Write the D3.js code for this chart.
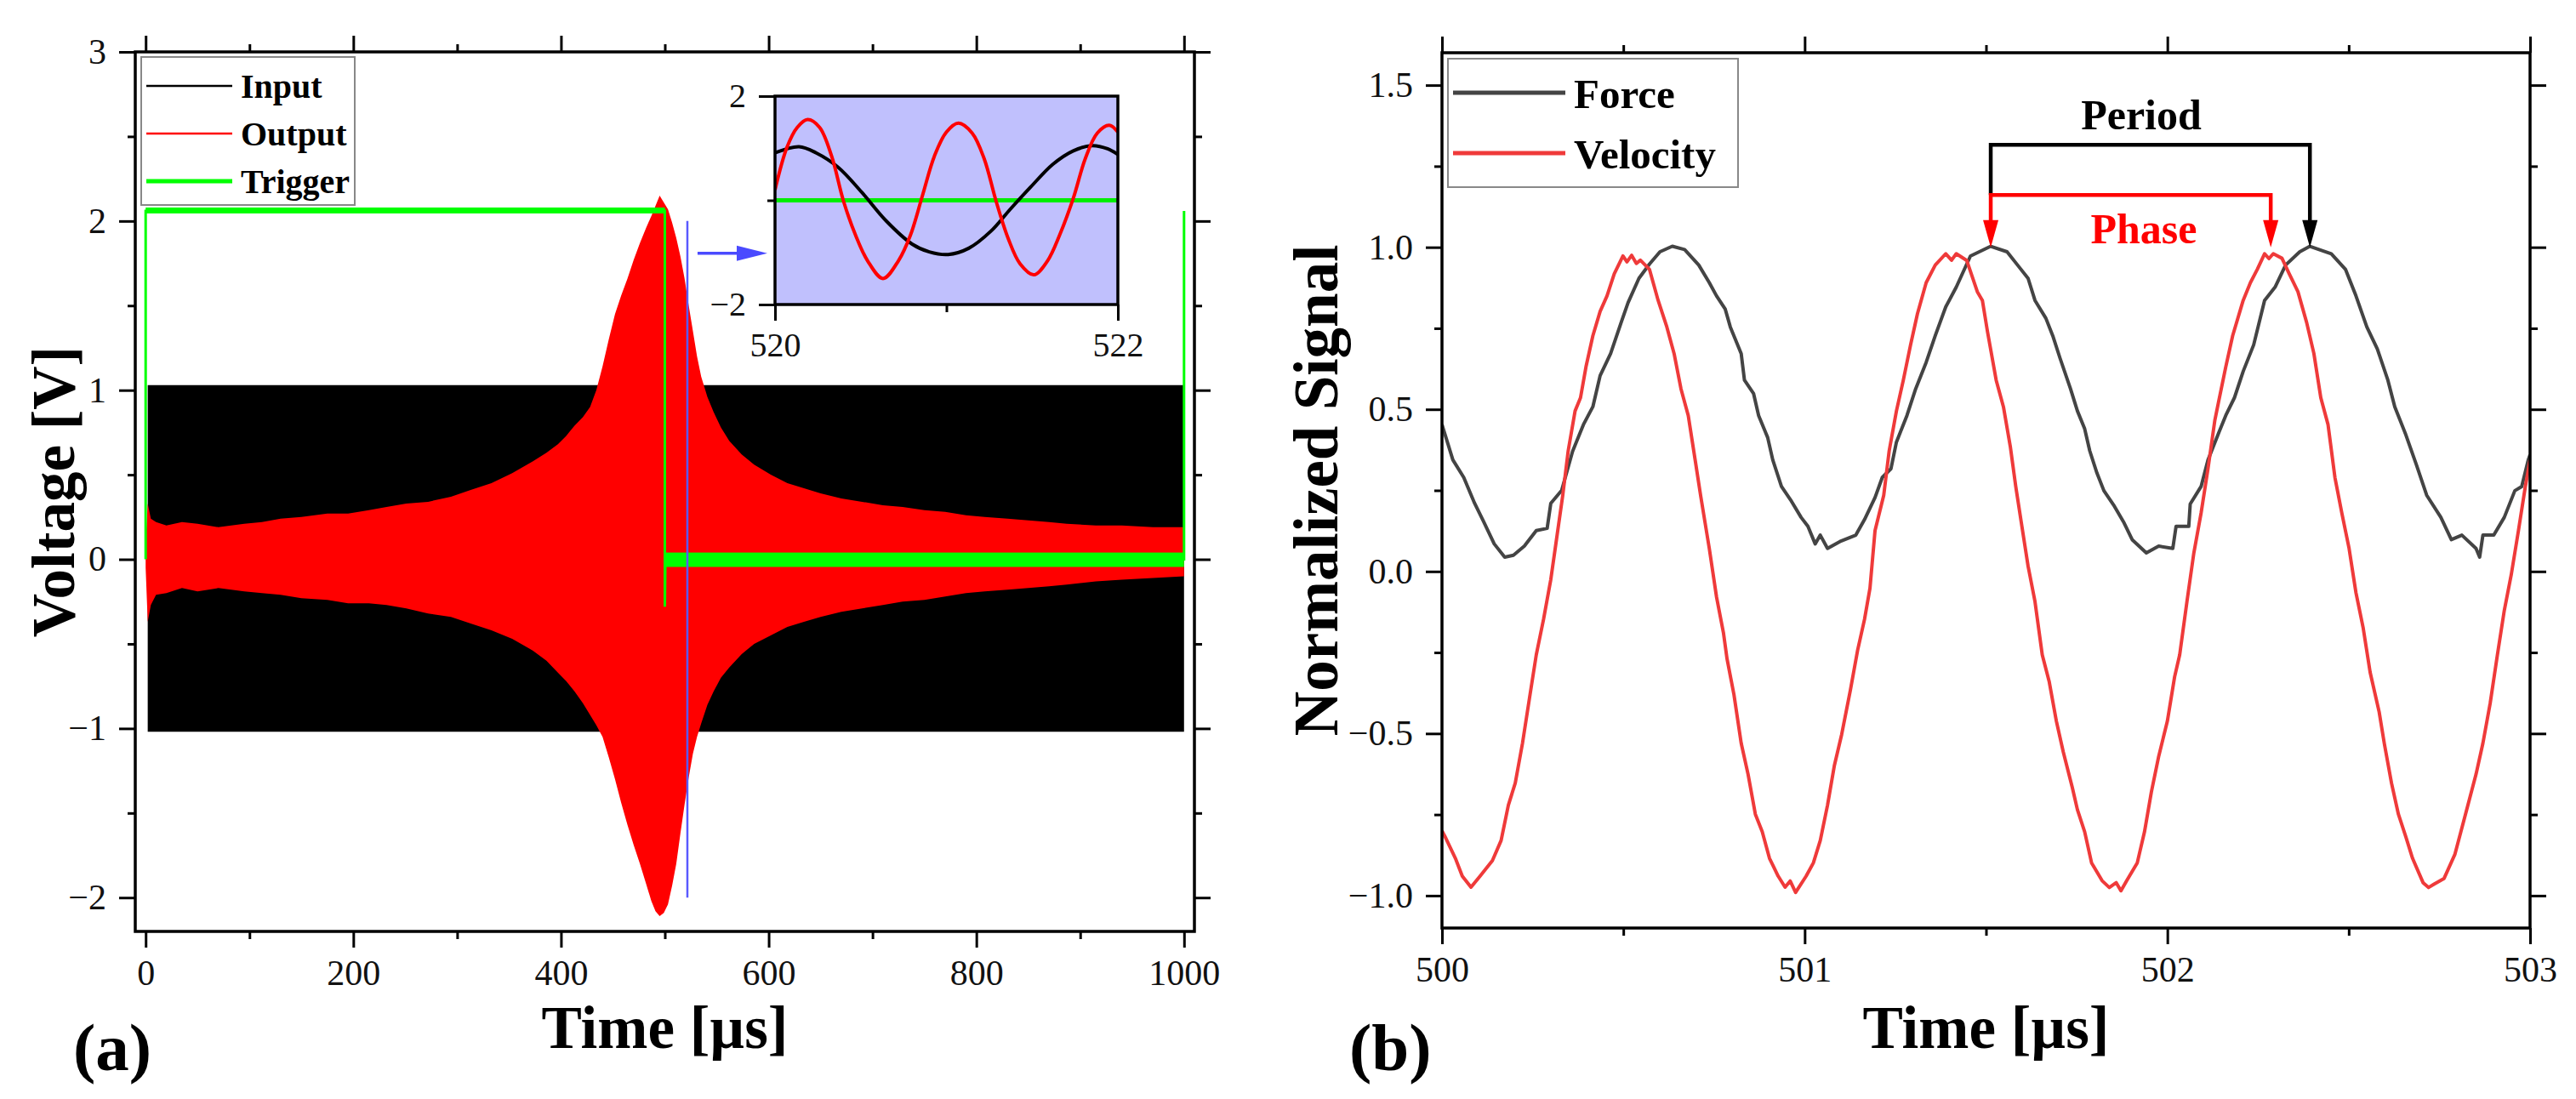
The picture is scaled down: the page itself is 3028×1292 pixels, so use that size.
<!DOCTYPE html>
<html>
<head>
<meta charset="utf-8">
<script src="https://cdn.jsdelivr.net/npm/d3@7"></script>
<style>
  body { margin: 0; background: #fff; }
  svg { display: block; font-family: "Liberation Serif", serif; }
</style>
</head>
<body>
<svg id="chart" width="3028" height="1292"></svg>
<script>
/****** data, panel (a) ******/
// envelope of the output burst: [time µs, upper V, lower V]
let outputEnvelope = [
  [0, 0.10, -0.05], [2, 0.33, -0.37], [5, 0.24, -0.27], [10, 0.22, -0.21], [20, 0.20, -0.20],
  [35, 0.22, -0.17], [50, 0.21, -0.19], [70, 0.19, -0.17], [95, 0.21, -0.19], [112, 0.22, -0.20],
  [130, 0.24, -0.21], [150, 0.25, -0.23], [175, 0.27, -0.24], [195, 0.27, -0.26], [215, 0.29, -0.26],
  [232, 0.31, -0.27], [251, 0.33, -0.29], [272, 0.34, -0.32], [294, 0.37, -0.34], [313, 0.41, -0.38],
  [333, 0.45, -0.42], [353, 0.51, -0.47], [373, 0.58, -0.54], [386, 0.63, -0.60], [397, 0.68, -0.67],
  [405, 0.73, -0.72], [413, 0.79, -0.78], [421, 0.84, -0.85], [428, 0.90, -0.92], [434, 1.00, -0.98],
  [440, 1.14, -1.05], [446, 1.30, -1.17], [452, 1.45, -1.30], [458, 1.56, -1.44], [464, 1.66, -1.57],
  [470, 1.77, -1.69], [476, 1.87, -1.80], [482, 1.96, -1.92], [487, 2.03, -2.02], [491, 2.09, -2.08],
  [495, 2.15, -2.11], [499, 2.11, -2.09], [503, 2.07, -2.04], [507, 1.99, -1.93], [511, 1.90, -1.80],
  [515, 1.79, -1.62], [519, 1.66, -1.45], [523, 1.50, -1.29], [527, 1.35, -1.15], [531, 1.20, -1.05],
  [535, 1.08, -0.97], [541, 0.96, -0.86], [547, 0.87, -0.78], [554, 0.78, -0.70], [562, 0.70, -0.64],
  [574, 0.62, -0.56], [586, 0.56, -0.50], [602, 0.50, -0.45], [618, 0.45, -0.40], [634, 0.42, -0.37],
  [650, 0.39, -0.34], [670, 0.36, -0.31], [690, 0.34, -0.29], [710, 0.32, -0.27], [729, 0.31, -0.25],
  [750, 0.29, -0.24], [770, 0.28, -0.22], [790, 0.26, -0.20], [808, 0.25, -0.19], [830, 0.24, -0.18],
  [850, 0.23, -0.17], [870, 0.22, -0.16], [887, 0.21, -0.15], [915, 0.20, -0.13], [940, 0.20, -0.12],
  [970, 0.19, -0.11], [1000, 0.19, -0.10]
];
// input drive fills a constant band
let inputEnvelope = [[2, 1.03, -1.02], [1000, 1.03, -1.02]];
let triggerLine = [[0, 0], [0, 2.06], [500, 2.06], [500, -0.28], [500.5, 0], [1000, 0], [1000, 2.06]];
let triggerBands = [[0, 500, 2.045, 2.08], [500, 1000, -0.045, 0.04]];
let insetMarker = [[521.7, -2.0], [521.7, 2.0]];
let insetArrow = [[531.5, 1.81], [598.7, 1.81]];

let xTicksA = [0, 200, 400, 600, 800, 1000];
let xMinorA = [100, 300, 500, 700, 900];
let yTicksA = [-2, -1, 0, 1, 2, 3];
let yMinorA = [-1.5, -0.5, 0.5, 1.5, 2.5];
let legendA = ["Input", "Output", "Trigger"];

// inset, 520–522 µs
let insetInput = [
  [520.0, 0.91], [520.14, 1.03], [520.24, 0.91], [520.37, 0.63], [520.51, 0.14], [520.65, -0.40],
  [520.80, -0.84], [520.90, -0.99], [521.01, -1.04], [521.13, -0.92], [521.26, -0.59], [521.37, -0.18],
  [521.49, 0.25], [521.62, 0.69], [521.74, 0.95], [521.85, 1.05], [521.94, 0.99], [522.0, 0.88]
];
let insetOutput = [
  [520.0, 0.20], [520.07, 1.02], [520.13, 1.40], [520.19, 1.55], [520.26, 1.40], [520.33, 0.85],
  [520.40, -0.02], [520.47, -0.67], [520.54, -1.16], [520.63, -1.50], [520.72, -1.16], [520.79, -0.67],
  [520.86, 0.09], [520.93, 0.85], [521.0, 1.31], [521.07, 1.48], [521.15, 1.29], [521.22, 0.80],
  [521.29, -0.02], [521.36, -0.73], [521.43, -1.22], [521.51, -1.43], [521.59, -1.16], [521.66, -0.67],
  [521.74, 0.04], [521.81, 0.80], [521.88, 1.29], [521.95, 1.44], [522.0, 1.31]
];
let insetTrigger = [[520, 0.0], [522, 0.0]];
let insetXTicks = [520, 522], insetXMinor = [521];
let insetYTicks = [-2, 2], insetYMinor = [0];

/****** data, panel (b) ******/
let force = [
  [500.0, 0.453], [500.03, 0.344], [500.06, 0.29], [500.09, 0.21], [500.115, 0.153], [500.144, 0.085],
  [500.173, 0.044], [500.197, 0.05], [500.227, 0.078], [500.26, 0.126], [500.29, 0.133], [500.30, 0.21],
  [500.33, 0.25], [500.36, 0.37], [500.39, 0.453], [500.416, 0.508], [500.436, 0.604], [500.465, 0.672],
  [500.494, 0.768], [500.513, 0.829], [500.543, 0.904], [500.572, 0.948], [500.601, 0.986], [500.635, 1.003],
  [500.669, 0.993], [500.708, 0.945], [500.737, 0.891], [500.757, 0.85], [500.781, 0.809], [500.795, 0.754],
  [500.825, 0.672], [500.834, 0.59], [500.859, 0.549], [500.873, 0.481], [500.898, 0.413], [500.912, 0.344],
  [500.936, 0.262], [500.961, 0.221], [500.99, 0.167], [501.009, 0.139], [501.029, 0.085], [501.043, 0.112],
  [501.063, 0.071], [501.097, 0.092], [501.141, 0.112], [501.165, 0.16], [501.194, 0.228], [501.214, 0.29],
  [501.238, 0.317], [501.253, 0.399], [501.282, 0.481], [501.306, 0.563], [501.335, 0.645], [501.36, 0.727],
  [501.389, 0.816], [501.418, 0.877], [501.457, 0.973], [501.513, 1.003], [501.558, 0.986], [501.587, 0.945],
  [501.616, 0.904], [501.635, 0.836], [501.665, 0.781], [501.684, 0.727], [501.704, 0.658], [501.733, 0.563],
  [501.752, 0.495], [501.772, 0.44], [501.786, 0.372], [501.806, 0.303], [501.825, 0.249], [501.854, 0.201],
  [501.879, 0.153], [501.903, 0.098], [501.942, 0.057], [501.976, 0.078], [502.015, 0.071], [502.024, 0.139],
  [502.059, 0.139], [502.063, 0.208], [502.093, 0.262], [502.112, 0.344], [502.141, 0.426], [502.161, 0.481],
  [502.185, 0.536], [502.209, 0.617], [502.238, 0.699], [502.268, 0.836], [502.297, 0.877], [502.326, 0.945],
  [502.365, 0.986], [502.393, 1.003], [502.452, 0.98], [502.491, 0.932], [502.52, 0.85], [502.55, 0.754],
  [502.579, 0.686], [502.608, 0.59], [502.627, 0.508], [502.656, 0.426], [502.686, 0.331], [502.715, 0.235],
  [502.754, 0.167], [502.783, 0.098], [502.812, 0.112], [502.851, 0.071], [502.861, 0.044], [502.87, 0.112],
  [502.9, 0.112], [502.929, 0.167], [502.958, 0.249], [502.977, 0.262], [502.995, 0.344], [503.0, 0.36]
];
let velocity = [
  [500.0, -0.80], [500.008, -0.817], [500.037, -0.885], [500.056, -0.94], [500.08, -0.974], [500.105, -0.94],
  [500.139, -0.892], [500.163, -0.83], [500.183, -0.721], [500.202, -0.653], [500.222, -0.53], [500.241, -0.393],
  [500.26, -0.257], [500.28, -0.148], [500.3, -0.025], [500.314, 0.085], [500.333, 0.235], [500.348, 0.372],
  [500.367, 0.495], [500.382, 0.536], [500.397, 0.631], [500.416, 0.727], [500.436, 0.802], [500.455, 0.85],
  [500.475, 0.918], [500.499, 0.973], [500.51, 0.955], [500.523, 0.975], [500.536, 0.95], [500.547, 0.96],
  [500.572, 0.932], [500.596, 0.836], [500.62, 0.754], [500.64, 0.672], [500.659, 0.563], [500.679, 0.481],
  [500.698, 0.344], [500.713, 0.235], [500.737, 0.071], [500.757, -0.079], [500.776, -0.189], [500.786, -0.27],
  [500.805, -0.38], [500.825, -0.53], [500.844, -0.626], [500.864, -0.749], [500.883, -0.803], [500.903, -0.885],
  [500.927, -0.94], [500.946, -0.974], [500.96, -0.955], [500.975, -0.99], [501.004, -0.94], [501.024, -0.899],
  [501.043, -0.83], [501.063, -0.721], [501.082, -0.598], [501.102, -0.503], [501.126, -0.366], [501.146, -0.243],
  [501.165, -0.148], [501.18, -0.052], [501.194, 0.126], [501.218, 0.235], [501.233, 0.372], [501.253, 0.495],
  [501.272, 0.59], [501.292, 0.699], [501.311, 0.795], [501.335, 0.891], [501.36, 0.945], [501.389, 0.98],
  [501.405, 0.96], [501.418, 0.98], [501.447, 0.959], [501.476, 0.863], [501.49, 0.836], [501.504, 0.74],
  [501.528, 0.59], [501.548, 0.508], [501.567, 0.385], [501.582, 0.262], [501.597, 0.153], [501.616, 0.016],
  [501.635, -0.093], [501.655, -0.257], [501.674, -0.339], [501.694, -0.462], [501.713, -0.557], [501.738, -0.667],
  [501.752, -0.735], [501.772, -0.803], [501.791, -0.899], [501.82, -0.954], [501.84, -0.975], [501.859, -0.96],
  [501.872, -0.985], [501.888, -0.954], [501.917, -0.899], [501.937, -0.803], [501.956, -0.68], [501.976, -0.571],
  [502.0, -0.462], [502.02, -0.325], [502.034, -0.257], [502.054, -0.093], [502.073, 0.057], [502.093, 0.18],
  [502.112, 0.317], [502.131, 0.467], [502.141, 0.522], [502.161, 0.631], [502.18, 0.727], [502.209, 0.836],
  [502.229, 0.891], [502.248, 0.932], [502.268, 0.98], [502.28, 0.965], [502.292, 0.98], [502.316, 0.966],
  [502.336, 0.918], [502.36, 0.863], [502.384, 0.768], [502.404, 0.672], [502.423, 0.536], [502.443, 0.453],
  [502.462, 0.29], [502.481, 0.18], [502.501, 0.071], [502.52, -0.066], [502.54, -0.175], [502.559, -0.311],
  [502.584, -0.434], [502.598, -0.53], [502.618, -0.653], [502.637, -0.749], [502.657, -0.817], [502.676, -0.885],
  [502.705, -0.96], [502.72, -0.975], [502.735, -0.965], [502.763, -0.947], [502.793, -0.872], [502.822, -0.749],
  [502.851, -0.626], [502.87, -0.53], [502.89, -0.407], [502.91, -0.257], [502.929, -0.12], [502.948, -0.011],
  [502.968, 0.126], [502.987, 0.262], [503.0, 0.344]
];
// period / phase markers: force peaks and velocity peak
let forcePeaks = [501.513, 502.393];
let velocityPeak = 502.285;
let periodLevel = 1.316, phaseLevel = 1.161, peakLevel = 1.0;

let xTicksB = [500, 501, 502, 503];
let xMinorB = [500.5, 501.5, 502.5];
let yTicksB = [-1.0, -0.5, 0.0, 0.5, 1.0, 1.5];
let yMinorB = [-0.75, -0.25, 0.25, 0.75, 1.25];
let legendB = ["Force", "Velocity"];

/****** layout ******/
let svg = d3.select("#chart");
let tickFont = 42;

let xA = d3.scaleLinear().domain([-10, 1010]).range([159, 1404]);
let yA = d3.scaleLinear().domain([-2.2, 3]).range([1095, 61]);
let xI = d3.scaleLinear().domain([520, 522]).range([911, 1314]);
let yI = d3.scaleLinear().domain([-2, 2]).range([358, 113]);
let xB = d3.scaleLinear().domain([500, 503]).range([1695, 2974]);
let yB = d3.scaleLinear().domain([-1.1, 1.6]).range([1091, 62]);

function styleAxis(a, fs) {
  a.select(".domain").remove();
  a.selectAll(".tick line").attr("stroke", "#000").attr("stroke-width", 3);
  a.selectAll(".tick text")
    .attr("font-size", fs)
    .attr("font-family", "Liberation Serif")
    .attr("fill", "#111");
}

// ticks on all four sides, labels only bottom and left
function drawFrame(g, x, y, opt) {
  let [x0, x1] = x.range(), [yBot, yTop] = y.range();
  let big = opt.big || 19, small = opt.small || 9, fs = opt.fs || tickFont;
  let sides = [
    [d3.axisBottom, x, opt.xMajor, big, opt.xFmt, 0, yBot],
    [d3.axisBottom, x, opt.xMinor, small, null, 0, yBot],
    [d3.axisLeft, y, opt.yMajor, big, opt.yFmt, x0, 0],
    [d3.axisLeft, y, opt.yMinor, small, null, x0, 0]
  ];
  if (opt.mirror) {
    sides.push([d3.axisTop, x, opt.xMajor, big, null, 0, yTop]);
    sides.push([d3.axisTop, x, opt.xMinor, small, null, 0, yTop]);
    sides.push([d3.axisRight, y, opt.yMajor, big, null, x1, 0]);
    sides.push([d3.axisRight, y, opt.yMinor, small, null, x1, 0]);
  }
  sides.forEach(([fn, sc, vals, size, fmt, tx, ty]) => {
    let ax = fn(sc).tickValues(vals).tickSize(size).tickSizeOuter(0)
      .tickPadding(fn === d3.axisBottom ? 14 : 15)
      .tickFormat(fmt || "");
    let a = g.append("g").attr("transform", `translate(${tx},${ty})`).call(ax);
    styleAxis(a, fs);
    if (!fmt) a.selectAll(".tick text").remove();
  });
  g.append("rect")
    .attr("x", x0).attr("y", yTop)
    .attr("width", x1 - x0).attr("height", yBot - yTop)
    .attr("fill", "none").attr("stroke", "#000").attr("stroke-width", 3.5);
}

function addClip(id, x, y) {
  let [x0, x1] = x.range(), [yBot, yTop] = y.range();
  svg.append("clipPath").attr("id", id).append("rect")
    .attr("x", x0).attr("y", yTop).attr("width", x1 - x0).attr("height", yBot - yTop);
}

function legend(g, items, o) {
  g.append("rect")
    .attr("x", o.x).attr("y", o.y).attr("width", o.w).attr("height", o.h)
    .attr("fill", "#fff").attr("stroke", "#888").attr("stroke-width", 2);
  items.forEach((d, i) => {
    let cy = o.y + o.first + i * o.step;
    g.append("line")
      .attr("x1", o.x + 6).attr("x2", o.x + 6 + o.len)
      .attr("y1", cy).attr("y2", cy)
      .attr("stroke", o.colors[i]).attr("stroke-width", o.widths[i]);
    g.append("text")
      .attr("x", o.x + 16 + o.len).attr("y", cy + o.fs * 0.36)
      .attr("font-size", o.fs).attr("font-weight", "bold").attr("fill", "#000")
      .text(d);
  });
}

/****** panel (a) ******/
addClip("clipA", xA, yA);
let gA = svg.append("g");
let plotA = gA.append("g").attr("clip-path", "url(#clipA)");

let band = d3.area().x(d => xA(d[0])).y0(d => yA(d[2])).y1(d => yA(d[1]));

plotA.append("path").datum(inputEnvelope).attr("d", band).attr("fill", "#000");
plotA.append("path").datum(outputEnvelope).attr("d", band).attr("fill", "#ff0000");

plotA.selectAll(".trigband")
  .data(triggerBands)
  .enter().append("rect")
    .attr("x", d => xA(d[0]))
    .attr("width", d => xA(d[1]) - xA(d[0]))
    .attr("y", d => yA(d[3]))
    .attr("height", d => yA(d[2]) - yA(d[3]))
    .attr("fill", "#00ff00");

plotA.append("path").datum(triggerLine)
  .attr("d", d3.line().x(d => xA(d[0])).y(d => yA(d[1])))
  .attr("fill", "none").attr("stroke", "#00ff00").attr("stroke-width", 3);

plotA.append("path").datum(insetMarker)
  .attr("d", d3.line().x(d => xA(d[0])).y(d => yA(d[1])))
  .attr("stroke", "#5a5aff").attr("stroke-width", 2.5);

drawFrame(gA, xA, yA, {
  xMajor: xTicksA, xMinor: xMinorA, yMajor: yTicksA, yMinor: yMinorA,
  xFmt: d3.format("d"), yFmt: d3.format("d"), mirror: true
});

// blue arrow towards the inset
let ax0 = xA(insetArrow[0][0]), ax1 = xA(insetArrow[1][0]), ay = yA(insetArrow[0][1]);
gA.append("line")
  .attr("x1", ax0).attr("x2", ax1 - 30).attr("y1", ay).attr("y2", ay)
  .attr("stroke", "#4a4aff").attr("stroke-width", 3.5);
gA.append("path")
  .attr("d", `M${ax1},${ay} L${ax1 - 36},${ay - 9} L${ax1 - 36},${ay + 9} Z`)
  .attr("fill", "#4a4aff");

// inset
addClip("clipI", xI, yI);
let gI = gA.append("g");
gI.append("rect")
  .attr("x", xI.range()[0]).attr("y", yI.range()[1])
  .attr("width", xI.range()[1] - xI.range()[0]).attr("height", yI.range()[0] - yI.range()[1])
  .attr("fill", "#c0c0fd");
let plotI = gI.append("g").attr("clip-path", "url(#clipI)");
let lineI = d3.line().x(d => xI(d[0])).y(d => yI(d[1])).curve(d3.curveCatmullRom);
plotI.append("path").datum(insetTrigger).attr("d", lineI)
  .attr("fill", "none").attr("stroke", "#00ee00").attr("stroke-width", 5);
plotI.append("path").datum(insetInput).attr("d", lineI)
  .attr("fill", "none").attr("stroke", "#000").attr("stroke-width", 4);
plotI.append("path").datum(insetOutput).attr("d", lineI)
  .attr("fill", "none").attr("stroke", "#ff0000").attr("stroke-width", 4);
drawFrame(gI, xI, yI, {
  xMajor: insetXTicks, xMinor: insetXMinor, yMajor: insetYTicks, yMinor: insetYMinor,
  xFmt: d3.format("d"), yFmt: d3.format("d"), fs: 40
});

legend(gA, legendA, {
  x: 166, y: 67, w: 251, h: 174, first: 34, step: 56, len: 101, fs: 40,
  colors: ["#000", "#ff0000", "#00ff00"], widths: [2.5, 2.5, 5]
});

gA.append("text")
  .attr("transform", `translate(87, ${(yA.range()[0] + yA.range()[1]) / 2}) rotate(-90)`)
  .attr("text-anchor", "middle").attr("font-size", 71).attr("font-weight", "bold")
  .text("Voltage [V]");
gA.append("text")
  .attr("x", (xA.range()[0] + xA.range()[1]) / 2).attr("y", 1232)
  .attr("text-anchor", "middle").attr("font-size", 71).attr("font-weight", "bold")
  .text("Time [µs]");
gA.append("text")
  .attr("x", 86).attr("y", 1258)
  .attr("font-size", 79).attr("font-weight", "bold")
  .text("(a)");

/****** panel (b) ******/
addClip("clipB", xB, yB);
let gB = svg.append("g");
let plotB = gB.append("g").attr("clip-path", "url(#clipB)");
let lineB = d3.line().x(d => xB(d[0])).y(d => yB(d[1]));

plotB.append("path").datum(force).attr("d", lineB)
  .attr("fill", "none").attr("stroke", "#444").attr("stroke-width", 4).attr("stroke-linejoin", "round");
plotB.append("path").datum(velocity).attr("d", lineB)
  .attr("fill", "none").attr("stroke", "#ef3a3a").attr("stroke-width", 4).attr("stroke-linejoin", "round");

drawFrame(gB, xB, yB, {
  xMajor: xTicksB, xMinor: xMinorB, yMajor: yTicksB, yMinor: yMinorB,
  xFmt: d3.format("d"), yFmt: d3.format(".1f"), mirror: true
});

// period and phase brackets
let headH = 32, headW = 9;
let tipY = yB(peakLevel);
function arrowHead(g, px, color) {
  g.append("path")
    .attr("d", `M${px},${tipY} L${px - headW},${tipY - headH} L${px + headW},${tipY - headH} Z`)
    .attr("fill", color);
}
let pA = xB(forcePeaks[0]), pB = xB(forcePeaks[1]), pV = xB(velocityPeak);
gB.append("path")
  .attr("d", `M${pA},${yB(phaseLevel)} V${yB(periodLevel)} H${pB} V${tipY - headH + 2}`)
  .attr("fill", "none").attr("stroke", "#000").attr("stroke-width", 4.5);
gB.append("path")
  .attr("d", `M${pA},${tipY - headH + 2} V${yB(phaseLevel)} H${pV} V${tipY - headH + 2}`)
  .attr("fill", "none").attr("stroke", "#ff0000").attr("stroke-width", 4.5);
arrowHead(gB, pA, "#ff0000");
arrowHead(gB, pV, "#ff0000");
arrowHead(gB, pB, "#000");

gB.append("text")
  .attr("x", xB(501.928)).attr("y", yB(1.364))
  .attr("text-anchor", "middle").attr("font-size", 50).attr("font-weight", "bold")
  .text("Period");
gB.append("text")
  .attr("x", xB(501.935)).attr("y", yB(1.013))
  .attr("text-anchor", "middle").attr("font-size", 50).attr("font-weight", "bold")
  .attr("fill", "#ff0000")
  .text("Phase");

legend(gB, legendB, {
  x: 1702, y: 69, w: 341, h: 151, first: 40, step: 71, len: 132, fs: 49,
  colors: ["#444", "#ef3a3a"], widths: [5, 5]
});

gB.append("text")
  .attr("transform", `translate(1572, ${(yB.range()[0] + yB.range()[1]) / 2}) rotate(-90)`)
  .attr("text-anchor", "middle").attr("font-size", 73).attr("font-weight", "bold")
  .text("Normalized Signal");
gB.append("text")
  .attr("x", (xB.range()[0] + xB.range()[1]) / 2).attr("y", 1232)
  .attr("text-anchor", "middle").attr("font-size", 71).attr("font-weight", "bold")
  .text("Time [µs]");
gB.append("text")
  .attr("x", 1586).attr("y", 1258)
  .attr("font-size", 79).attr("font-weight", "bold")
  .text("(b)");
</script>
</body>
</html>
